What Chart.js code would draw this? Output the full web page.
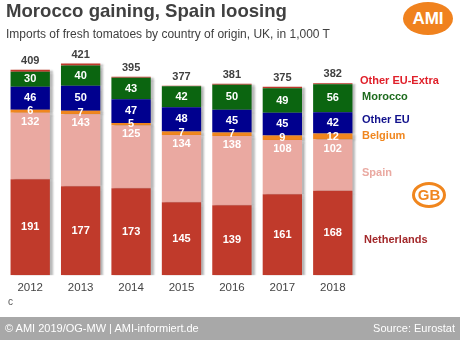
<!DOCTYPE html>
<html>
<head>
<meta charset="utf-8">
<script src="https://cdn.jsdelivr.net/npm/chart.js@4/dist/chart.umd.min.js"></script>
<style>
    body { margin: 0; width: 460px; height: 340px; overflow: hidden; background: #fff; font-family: "Liberation Sans", Arial, sans-serif; }
    #wrap { position: relative; width: 460px; height: 340px; }
    #chart { position: absolute; left: 0; top: 0; }
    .title { position: absolute; left: 6px; top: 0px; font-size: 18.6px; font-weight: bold; color: #404040; }
    .subtitle { position: absolute; left: 6px; top: 27px; font-size: 12px; color: #404040; }
    .ami { position: absolute; left: 403px; top: 2px; width: 50px; height: 33px; border-radius: 50%; background: #f0821e;
           color: #fff; font-weight: bold; font-size: 17px; text-align: center; line-height: 33px; }
    .gb { position: absolute; left: 412px; top: 182px; width: 28px; height: 20px; border-radius: 50%; border: 3px solid #f0861e;
          color: #f0861e; font-weight: bold; font-size: 15px; text-align: center; line-height: 20px; background: #fff; }
    .c { position: absolute; left: 8px; top: 296px; font-size: 10px; color: #555; }
    .footer { position: absolute; left: 0; top: 317px; width: 460px; height: 23px; background: #a8a8a8; color: #fff; font-size: 11px; }
    .footer .l { position: absolute; left: 5px; top: 5px; }
    .footer .r { position: absolute; right: 5px; top: 5px; }
</style>
</head>
<body>
<div id="wrap">
    <canvas id="chart" width="460" height="301"></canvas>
    <div class="title">Morocco gaining, Spain loosing</div>
    <div class="subtitle">Imports of fresh tomatoes by country of origin, UK, in 1,000 T</div>
    <div class="ami">AMI</div>
    <div class="gb">GB</div>
    <div class="c">c</div>
    <div class="footer"><span class="l">© AMI 2019/OG-MW | AMI-informiert.de</span><span class="r">Source: Eurostat</span></div>
</div>
<script>
// Tomato imports into the UK, 1,000 t
const years = ['2012', '2013', '2014', '2015', '2016', '2017', '2018'];
const netherlands = [191, 177, 173, 145, 139, 161, 168];
const spain = [132, 143, 125, 134, 138, 108, 102];
const belgium = [6, 7, 5, 7, 7, 9, 12];
const otherEU = [46, 50, 47, 48, 45, 45, 42];
const morocco = [30, 40, 43, 42, 50, 49, 56];
const otherExtra = [4, 4, 2, 1, 2, 3, 2];

const seriesNames = ['Netherlands', 'Spain', 'Belgium', 'Other EU', 'Morocco', 'Other EU-Extra'];
const seriesData = [netherlands, spain, belgium, otherEU, morocco, otherExtra];
const barColors = ['#c03a2b', '#eaa9a1', '#f0861e', '#00008e', '#0b6510', '#c0392b'];
const nameColors = ['#a3282a', '#eaa9a1', '#f0861e', '#12128c', '#1d6b1d', '#e0202a'];
// where each series name sits on the right
const namePos = [[364, 240], [362, 173], [362, 136], [362, 120], [362, 97], [360, 81]];

const totals = years.map((y, i) => seriesData.reduce((s, d) => s + d[i], 0));

// soft shadow to the right of the bars
const barShadow = {
    id: 'barShadow',
    beforeDatasetsDraw(chart) {
        const ctx = chart.ctx;
        ctx.save();
        ctx.shadowColor = 'rgba(0,0,0,0.28)';
        ctx.shadowOffsetX = 3;
        ctx.shadowOffsetY = 1;
        ctx.shadowBlur = 2;
    },
    afterDatasetsDraw(chart) {
        chart.ctx.restore();
    }
};

// values inside the segments, totals on top, series names on the right
const valueLabels = {
    id: 'valueLabels',
    afterDraw(chart) {
        const ctx = chart.ctx;
        ctx.save();
        ctx.textAlign = 'center';
        ctx.textBaseline = 'middle';
        ctx.font = 'bold 11px "Liberation Sans", Arial, sans-serif';
        ctx.fillStyle = '#fff';
        for (let d = 0; d < 5; d++) {
            const meta = chart.getDatasetMeta(d);
            meta.data.forEach((bar, i) => {
                const top = Math.min(bar.y, bar.base);
                const bottom = Math.max(bar.y, bar.base);
                let y = (top + bottom) / 2;
                if (d === 1) y = top + 9;
                ctx.fillText(seriesData[d][i], bar.x, y);
            });
        }
        const last = chart.getDatasetMeta(5);
        ctx.fillStyle = '#404040';
        last.data.forEach((bar, i) => {
            ctx.fillText(totals[i], bar.x, Math.min(bar.y, bar.base) - 9);
        });
        ctx.textAlign = 'left';
        seriesNames.forEach((name, d) => {
            ctx.fillStyle = nameColors[d];
            ctx.fillText(name, namePos[d][0], namePos[d][1]);
        });
        ctx.restore();
    }
};

new Chart(document.getElementById('chart'), {
    type: 'bar',
    data: {
        labels: years,
        datasets: seriesNames.map((name, d) => ({
            label: name,
            data: seriesData[d],
            backgroundColor: barColors[d],
            borderWidth: 0,
            categoryPercentage: 1,
            barPercentage: 0.78
        }))
    },
    options: {
        responsive: false,
        animation: false,
        layout: { padding: { left: 5, right: 102, top: 44, bottom: 0 } },
        plugins: { legend: { display: false }, tooltip: { enabled: false } },
        scales: {
            x: {
                stacked: true,
                grid: { display: false, drawTicks: false },
                border: { display: false },
                ticks: { color: '#444', padding: 6, font: { size: 11.5, family: '"Liberation Sans", Arial, sans-serif' } }
            },
            y: {
                stacked: true,
                display: false,
                min: 0,
                max: 460
            }
        }
    },
    plugins: [barShadow, valueLabels]
});
</script>
</body>
</html>
